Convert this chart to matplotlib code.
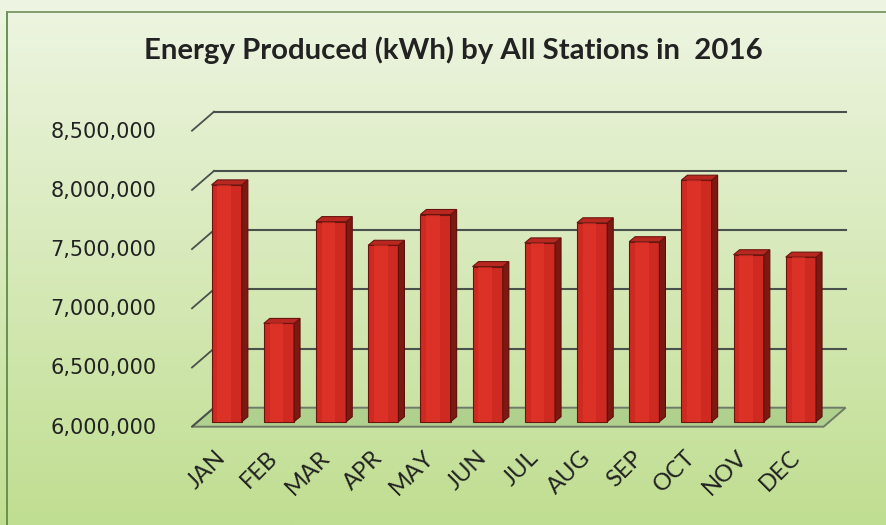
import numpy as np
import matplotlib
matplotlib.use("Agg")
import matplotlib.pyplot as plt
from matplotlib.patches import Polygon
from matplotlib.transforms import ScaledTranslation

# monthly energy (kWh)
months = ["JAN", "FEB", "MAR", "APR", "MAY", "JUN",
          "JUL", "AUG", "SEP", "OCT", "NOV", "DEC"]
energy = [8000000, 6830000, 7690000, 7490000, 7750000, 7310000,
          7510000, 7680000, 7520000, 8040000, 7410000, 7390000]
yticks = [6000000, 6500000, 7000000, 7500000, 8000000, 8500000]
title = "Energy Produced (kWh) by All Stations in  2016"

W, H = 887, 525
fig = plt.figure(figsize=(W / 100, H / 100), dpi=100)

# gradient background
bg = fig.add_axes([0, 0, 1, 1], zorder=0)
top = np.array([238, 245, 226]) / 255
bot = np.array([192, 222, 145]) / 255
t = np.linspace(0, 1, 256)[:, None]
grad = top * (1 - t[..., None]) + bot * t[..., None]
bg.imshow(grad, aspect="auto", extent=[0, 1, 0, 1])
bg.plot([7 / W, 7 / W], [0, 1 - 12 / H], color="#5f8a4a", lw=1.3)
bg.plot([7 / W, 1], [1 - 12 / H, 1 - 12 / H], color="#7a9466", lw=1.3)
bg.set_xlim(0, 1)
bg.set_ylim(0, 1)
bg.axis("off")

ax = fig.add_axes([198 / W, 103.3 / H, 631.6 / W, 296 / H], zorder=1)
ax.patch.set_visible(False)
for s in ax.spines.values():
    s.set_visible(False)
x = np.arange(len(months))
xl, xr = -0.55, 11.55
y0, y1 = 6000000, 8500000
ax.set_xlim(xl, xr)
ax.set_ylim(y0, y1)

# pixels per data unit, to fake the 3d depth
ppx = ax.bbox.width / (xr - xl)
ppy = ax.bbox.height / (y1 - y0)
def off(px, py):
    return px / ppx, py / ppy

fdx, fdy = off(-6, -5)    # front plane
bdx, bdy = off(16, 14)    # back wall
sdx, sdy = off(6, 5)      # bar depth

# floor
floor = [(xl + fdx, y0 + fdy), (xr + fdx, y0 + fdy),
         (xr + bdx, y0 + bdy), (xl + bdx, y0 + bdy)]
ax.add_patch(Polygon(floor, closed=True, facecolor="#b0d08e",
                     edgecolor="#6f7a68", lw=1.4, clip_on=False, zorder=1))

# grid on back wall + slanted ticks on side
grid_c = "#4a504b"
for v in yticks[1:]:
    ax.plot([xl + bdx, xr + bdx], [v + bdy, v + bdy], color=grid_c,
            lw=1.5, clip_on=False, zorder=1)
for v in yticks:
    ax.plot([xl + fdx, xl + bdx], [v + fdy, v + bdy], color=grid_c,
            lw=1.3, clip_on=False, zorder=1)

# bars: front face, side face, top face
w = 0.58
ax.bar(x, np.array(energy) - y0, bottom=y0, width=w, color="#cf2a21",
       edgecolor="#6a140f", lw=0.8, zorder=3, clip_on=False)
for xi, v in zip(x, energy):
    r = xi + w / 2
    l = xi - w / 2
    side = [(r, y0), (r + sdx, y0 + sdy), (r + sdx, v + sdy), (r, v)]
    ax.add_patch(Polygon(side, closed=True, facecolor="#7e1912",
                         edgecolor="#5a100c", lw=0.8, zorder=3, clip_on=False))
    topf = [(l, v), (r, v), (r + sdx, v + sdy), (l + sdx, v + sdy)]
    ax.add_patch(Polygon(topf, closed=True, facecolor="#b92820",
                         edgecolor="#6a140f", lw=0.8, zorder=3, clip_on=False))
    # soft highlight in the middle of the front face
    ax.bar(xi - w * 0.08, v - y0, bottom=y0, width=w * 0.45, color="#e8382c",
           lw=0, zorder=3.5, alpha=0.55, clip_on=False)

ax.set_yticks(yticks)
ax.set_yticklabels([f"{v:,}" for v in yticks])
ax.tick_params(axis="y", length=0, pad=30, labelsize=15, labelcolor="#222222")
shift = ScaledTranslation(0, -4 / 100, fig.dpi_scale_trans)
for lab in ax.get_yticklabels():
    lab.set_fontfamily("DejaVu Sans")
    lab.set_transform(lab.get_transform() + shift)
ax.set_xticks(x)
ax.set_xticklabels(months, rotation=45, ha="right", va="top",
                   rotation_mode="anchor", fontfamily="Lato", fontsize=17)
ax.tick_params(axis="x", length=0, pad=13, labelcolor="#222222")
xshift = ScaledTranslation(-12 / 100, -7 / 100, fig.dpi_scale_trans)
for lab in ax.get_xticklabels():
    lab.set_transform(lab.get_transform() + xshift)

fig.text(453 / W, 1 - 50 / H, title, ha="center", va="center",
         fontsize=21.2, fontweight="bold", fontfamily="Lato", color="#222222")

fig.savefig("out.png", dpi=100)
